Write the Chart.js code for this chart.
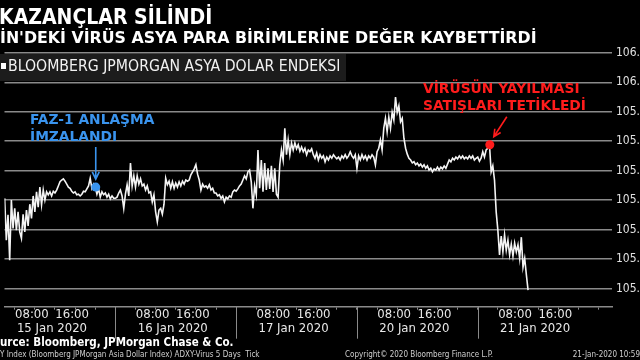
<!DOCTYPE html>
<html lang="tr">
<head>
<meta charset="utf-8">
<script src="https://cdn.jsdelivr.net/npm/chart.js@4.4.1/dist/chart.umd.min.js"></script>
<style>
  html, body { margin: 0; padding: 0; background: #000; }
  #wrap { width: 640px; height: 360px; position: relative; }
</style>
</head>
<body>
<div id="wrap"><canvas id="chart"></canvas></div>
<script>
// Trading days shown (weekend 18-19 Jan is skipped by the chart)
const dayLabels = ['15 Jan 2020', '16 Jan 2020', '17 Jan 2020', '20 Jan 2020', '21 Jan 2020'];
const hourTicks = [0, 4, 8, 12, 16, 20];
const dayBreaks = [24, 48, 72, 96];

// ADXY readings, one every 20 minutes
const sampleStep = 1 / 3;
const jan15Start = 2;
const jan15 = [
  105.803, 105.732, 105.775, 105.698, 105.800, 105.752, 105.786, 105.749, 105.780, 105.746,
  105.735, 105.776, 105.746, 105.783, 105.756, 105.793, 105.769, 105.807, 105.780, 105.814,
  105.788, 105.822, 105.792, 105.817, 105.800, 105.814, 105.809, 105.814, 105.807, 105.815,
  105.812, 105.817, 105.824, 105.831, 105.834, 105.836, 105.832, 105.827, 105.822, 105.820,
  105.815, 105.812, 105.814, 105.809, 105.810, 105.807, 105.810, 105.815, 105.814, 105.819,
  105.824, 105.837, 105.820, 105.827, 105.822, 105.810, 105.819, 105.805, 105.814, 105.809,
  105.812, 105.805, 105.810, 105.802, 105.807, 105.803
];
const jan16 = [
  105.803, 105.805, 105.812, 105.817, 105.807, 105.786, 105.810, 105.826, 105.807, 105.863,
  105.824, 105.841, 105.822, 105.841, 105.827, 105.836, 105.824, 105.827, 105.817, 105.824,
  105.812, 105.814, 105.797, 105.809, 105.780, 105.763, 105.783, 105.786, 105.776, 105.793,
  105.837, 105.826, 105.832, 105.820, 105.831, 105.820, 105.829, 105.822, 105.831, 105.824,
  105.832, 105.827, 105.834, 105.832, 105.834, 105.843, 105.848, 105.853, 105.860, 105.844,
  105.834, 105.817, 105.827, 105.822, 105.824, 105.820, 105.826, 105.817, 105.820, 105.812,
  105.812, 105.807, 105.809, 105.803, 105.807, 105.797, 105.805, 105.802, 105.807, 105.805,
  105.814, 105.817
];
const jan17 = [
  105.815, 105.819, 105.824, 105.827, 105.834, 105.841, 105.836, 105.848, 105.851, 105.831,
  105.786, 105.824, 105.809, 105.885, 105.820, 105.868, 105.814, 105.863, 105.817, 105.854,
  105.819, 105.858, 105.814, 105.854, 105.810, 105.805, 105.860, 105.885, 105.868, 105.922,
  105.877, 105.902, 105.877, 105.897, 105.885, 105.897, 105.887, 105.894, 105.883, 105.890,
  105.882, 105.888, 105.877, 105.885, 105.882, 105.887, 105.877, 105.871, 105.880, 105.868,
  105.877, 105.871, 105.875, 105.865, 105.873, 105.868, 105.875, 105.871, 105.877, 105.873,
  105.870, 105.873, 105.868, 105.875, 105.871, 105.877, 105.871, 105.875, 105.882, 105.875,
  105.871, 105.877
];
const jan20 = [
  105.854, 105.875, 105.868, 105.877, 105.870, 105.875, 105.868, 105.875, 105.871, 105.877,
  105.873, 105.860, 105.882, 105.888, 105.902, 105.885, 105.922, 105.939, 105.916, 105.941,
  105.922, 105.949, 105.936, 105.975, 105.949, 105.960, 105.933, 105.939, 105.905, 105.888,
  105.878, 105.871, 105.868, 105.863, 105.865, 105.860, 105.863, 105.858, 105.861, 105.856,
  105.860, 105.854, 105.858, 105.851, 105.854, 105.848, 105.853, 105.851, 105.856, 105.851,
  105.856, 105.853, 105.858, 105.854, 105.861, 105.868, 105.865, 105.871, 105.868, 105.873,
  105.870, 105.875, 105.871, 105.875, 105.870, 105.873, 105.870, 105.875, 105.871, 105.875,
  105.868, 105.871
];
const jan21 = [
  105.873, 105.866, 105.871, 105.882, 105.873, 105.885, 105.888, 105.894, 105.848, 105.858,
  105.834, 105.780, 105.749, 105.707, 105.739, 105.712, 105.741, 105.715, 105.732, 105.707,
  105.725, 105.705, 105.727, 105.712, 105.724, 105.701, 105.737, 105.686, 105.701, 105.673,
  105.647
];

const yTicks = [105.65, 105.70, 105.75, 105.80, 105.85, 105.90, 105.95, 106.00, 106.05];

// Annotated events (hour on the trading-day axis, index level)
const phaseOnePoint = { x: 20.1, y: 105.822 };
const virusPoint = { x: 98.4, y: 105.894 };

const titleText = 'KAZANÇLAR SİLİNDİ';
const subtitleText = "İN'DEKİ VİRÜS ASYA PARA BİRİMLERİNE DEĞER KAYBETTİRDİ";
const legendText = 'BLOOMBERG JPMORGAN ASYA DOLAR ENDEKSI';
const phaseOneLines = ['FAZ-1 ANLAŞMA', 'İMZALANDI'];
const virusLines = ['VİRÜSÜN YAYILMASI', 'SATIŞLARI TETİKLEDİ'];
const sourceText = 'urce: Bloomberg, JPMorgan Chase & Co.';
const footerLeft = 'Y Index (Bloomberg JPMorgan Asia Dollar Index) ADXY-Virus 5 Days  Tick';
const footerMid = 'Copyright© 2020 Bloomberg Finance L.P.';
const footerRight = '21-Jan-2020 10:59';

const NARROW = "'DejaVu Sans Condensed', 'Liberation Sans Narrow', 'DejaVu Sans', sans-serif";
const WIDE = "'DejaVu Sans', Verdana, sans-serif";
const GRID = '#8a8a8a';
const BLUE = '#3a94ee';
const RED = '#ff1c1c';

const series = [
  { day: 0, start: jan15Start, values: jan15 },
  { day: 1, start: 0, values: jan16 },
  { day: 2, start: 0, values: jan17 },
  { day: 3, start: 0, values: jan20 },
  { day: 4, start: 0, values: jan21 }
];
const points = [];
series.forEach(s => {
  s.values.forEach((v, i) => {
    points.push({ x: s.day * 24 + s.start + i * sampleStep, y: v });
  });
});

const X_MIN = 1.97;
const X_MAX = 122.68;

function arrow(ctx, x1, y1, x2, y2, color) {
  const ang = Math.atan2(y2 - y1, x2 - x1);
  const head = 8;
  ctx.strokeStyle = color;
  ctx.lineWidth = 1.6;
  ctx.beginPath();
  ctx.moveTo(x1, y1);
  ctx.lineTo(x2, y2);
  ctx.moveTo(x2 - head * Math.cos(ang - 0.45), y2 - head * Math.sin(ang - 0.45));
  ctx.lineTo(x2, y2);
  ctx.lineTo(x2 - head * Math.cos(ang + 0.45), y2 - head * Math.sin(ang + 0.45));
  ctx.stroke();
}

const decorations = {
  id: 'decorations',
  beforeDraw(chart) {
    const { ctx, width, height } = chart;
    ctx.save();
    ctx.fillStyle = '#000';
    ctx.fillRect(0, 0, width, height);
    ctx.restore();
  },
  afterDraw(chart) {
    const { ctx, chartArea, scales } = chart;
    const x = scales.x;
    const y = scales.y;
    ctx.save();

    // day separators under the axis
    ctx.strokeStyle = GRID;
    ctx.lineWidth = 1;
    dayBreaks.forEach(h => {
      const px = Math.round(x.getPixelForValue(h)) + 0.5;
      ctx.beginPath();
      ctx.moveTo(px, chartArea.bottom);
      ctx.lineTo(px, chartArea.bottom + 32);
      ctx.stroke();
    });

    // titles
    ctx.fillStyle = '#ffffff';
    ctx.textBaseline = 'alphabetic';
    ctx.textAlign = 'left';
    ctx.font = `bold 21px ${NARROW}`;
    ctx.fillText(titleText, -1, 24);
    ctx.font = `bold 15.8px ${WIDE}`;
    ctx.fillText(subtitleText, 0, 43);

    // legend box
    ctx.fillStyle = '#1c1c1c';
    ctx.fillRect(0, 54, 346, 27);
    ctx.fillStyle = '#ffffff';
    ctx.fillRect(1, 63, 5, 6);
    ctx.font = `15.7px ${NARROW}`;
    ctx.fillStyle = '#f2f2f2';
    ctx.textBaseline = 'middle';
    ctx.fillText(legendText, 8, 67);

    // annotations
    ctx.font = `bold 13.8px ${WIDE}`;
    ctx.fillStyle = BLUE;
    ctx.fillText(phaseOneLines[0], 30, 120);
    ctx.fillText(phaseOneLines[1], 30, 137);
    ctx.fillStyle = RED;
    ctx.fillText(virusLines[0], 423, 89);
    ctx.fillText(virusLines[1], 423, 106);

    const bx = x.getPixelForValue(phaseOnePoint.x);
    const by = y.getPixelForValue(phaseOnePoint.y);
    arrow(ctx, bx, by - 40, bx, by - 8, BLUE);
    const rx = x.getPixelForValue(virusPoint.x);
    const ry = y.getPixelForValue(virusPoint.y);
    arrow(ctx, rx + 17, ry - 28, rx + 4, ry - 8, RED);

    // footer
    ctx.textBaseline = 'middle';
    ctx.fillStyle = '#ffffff';
    ctx.font = `bold 11.5px ${NARROW}`;
    ctx.fillText(sourceText, 0, 343);
    ctx.fillStyle = '#cfcfcf';
    ctx.font = `8px ${NARROW}`;
    ctx.fillText(footerLeft, 0, 355);
    ctx.fillText(footerMid, 345, 355);
    ctx.textAlign = 'right';
    ctx.fillText(footerRight, 640, 355);

    ctx.restore();
  }
};

new Chart(document.getElementById('chart'), {
  type: 'line',
  data: {
    datasets: [
      {
        label: 'Phase one',
        data: [phaseOnePoint],
        showLine: false,
        pointRadius: 4.5,
        pointBackgroundColor: BLUE,
        pointBorderWidth: 0,
        order: 0
      },
      {
        label: 'Virus',
        data: [virusPoint],
        showLine: false,
        pointRadius: 4.5,
        pointBackgroundColor: RED,
        pointBorderWidth: 0,
        order: 0
      },
      {
        label: legendText,
        data: points,
        borderColor: '#f4f4f4',
        borderWidth: 1.6,
        pointRadius: 0,
        tension: 0,
        order: 1
      }
    ]
  },
  options: {
    responsive: true,
    maintainAspectRatio: false,
    devicePixelRatio: 1,
    animation: false,
    layout: { padding: { top: 47.5, left: 0, right: 0, bottom: 0 } },
    plugins: {
      legend: { display: false },
      title: { display: false },
      tooltip: { enabled: false }
    },
    scales: {
      x: {
        type: 'linear',
        min: X_MIN,
        max: X_MAX,
        afterFit(scale) { scale.height = 53.3; },
        afterBuildTicks(scale) {
          const ticks = [];
          dayLabels.forEach((d, i) => {
            hourTicks.forEach(h => {
              const v = i * 24 + h;
              if (v >= X_MIN && v <= X_MAX) ticks.push({ value: v });
            });
          });
          if (120 <= X_MAX) ticks.push({ value: 120 });
          scale.ticks = ticks;
        },
        grid: { drawOnChartArea: false, color: GRID, tickLength: 3 },
        border: { display: true, color: GRID, width: 1.5 },
        ticks: {
          autoSkip: false,
          maxRotation: 0,
          padding: -2,
          labelOffset: -3,
          color: '#e8e8e8',
          font: { family: NARROW, size: 13, lineHeight: 14 / 13 },
          callback(value) {
            const hr = ((value % 24) + 24) % 24;
            const day = Math.floor(value / 24);
            if (hr === 8) return '08:00';
            if (hr === 16) return '16:00';
            if (hr === 12 && dayLabels[day]) return ['', dayLabels[day]];
            return '';
          }
        }
      },
      y: {
        position: 'right',
        min: 105.619,
        max: 106.059,
        afterFit(scale) { scale.width = 28; },
        afterBuildTicks(scale) {
          scale.ticks = yTicks.map(v => ({ value: v }));
        },
        grid: { color: GRID, lineWidth: 1.5, drawTicks: false },
        border: { display: false },
        ticks: {
          padding: 4,
          color: '#e0e0e0',
          font: { family: NARROW, size: 12 },
          callback(value) { return value.toFixed(2); }
        }
      }
    }
  },
  plugins: [decorations]
});
</script>
</body>
</html>
